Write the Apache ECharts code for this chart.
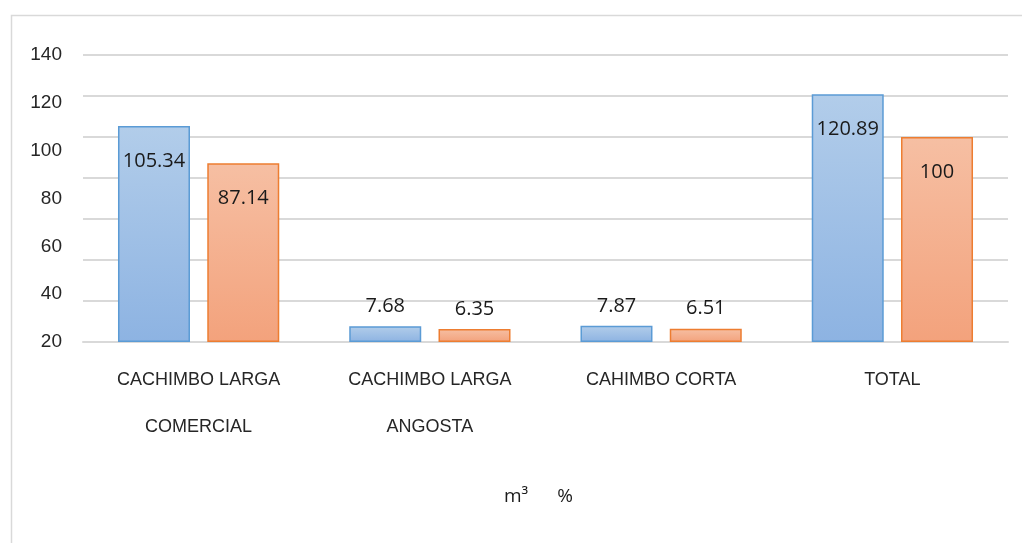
<!DOCTYPE html>
<html>
<head>
<meta charset="utf-8">
<script src="https://cdn.jsdelivr.net/npm/echarts@6/dist/echarts.min.js"></script>
<style>html,body{margin:0;padding:0;background:#fff;}#c{width:1022px;height:543px;}</style>
</head>
<body>
<div id="c"></div>
<script>
var categories = ['CACHIMBO LARGA\nCOMERCIAL', 'CACHIMBO LARGA\nANGOSTA', 'CAHIMBO CORTA', 'TOTAL'];
var seriesNames = ['m³', '%'];
var volumeValues = [105.34, 7.68, 7.87, 120.89];
var percentValues = [87.14, 6.35, 6.51, 100];
var tickLabels = [20, 40, 60, 80, 100, 120, 140];

var chart = echarts.init(document.getElementById('c'), null, {renderer: 'canvas'});

function makeData(vals) {
  return vals.map(function (v) {
    var big = v > 20;
    return {
      value: v,
      label: big ? {position: 'insideTop', distance: 25} : {position: 'top', distance: 10}
    };
  });
}

function grad(top, bottom) {
  return new echarts.graphic.LinearGradient(0, 0, 0, 1, [
    {offset: 0, color: top}, {offset: 1, color: bottom}
  ]);
}

var labelStyle = {
  show: true,
  color: '#1a1a1a',
  fontFamily: 'Open Sans',
  fontSize: 20
};

var axisFont = 'Liberation Sans Narrow, Arial Narrow, Liberation Sans';

chart.setOption({
  animation: false,
  backgroundColor: '#fff',
  graphic: [{
    type: 'rect',
    shape: {x: 11.5, y: 15.5, width: 1030, height: 560},
    style: {fill: 'none', stroke: '#d9d9d9', lineWidth: 1.5},
    silent: true,
    z: -10
  }],
  legend: {
    data: seriesNames,
    left: 494,
    top: 482,
    icon: 'none',
    itemWidth: 0,
    itemGap: 24,
    textStyle: {fontFamily: 'Open Sans', fontSize: 19, color: '#1a1a1a'}
  },
  grid: {left: 83, right: 14, top: 55, bottom: 201},
  xAxis: {
    type: 'category',
    data: categories,
    axisLine: {lineStyle: {color: '#d9d9d9', width: 2}},
    axisTick: {show: false},
    axisLabel: {
      interval: 0,
      margin: 15,
      color: '#262626',
      fontFamily: axisFont,
      fontSize: 18,
      lineHeight: 47
    }
  },
  yAxis: [{
    type: 'value',
    min: 0, max: 140, interval: 20,
    axisLabel: {show: false},
    axisLine: {show: false},
    axisTick: {show: false},
    splitLine: {lineStyle: {color: '#d9d9d9', width: 2}}
  }, {
    type: 'value',
    position: 'left',
    min: tickLabels[0], max: tickLabels[tickLabels.length - 1], interval: 20,
    axisLine: {show: false},
    axisTick: {show: false},
    splitLine: {show: false},
    axisLabel: {
      margin: 21,
      color: '#262626',
      fontFamily: axisFont,
      fontSize: 19
    }
  }],
  series: [{
    name: seriesNames[0],
    type: 'bar',
    yAxisIndex: 0,
    barWidth: 72,
    barGap: '24%',
    data: makeData(volumeValues),
    itemStyle: {color: grad('#b2cdea', '#8db3e2'), borderColor: '#5b9bd5', borderWidth: 1.5},
    label: labelStyle
  }, {
    name: seriesNames[1],
    type: 'bar',
    yAxisIndex: 0,
    barWidth: 72,
    barGap: '24%',
    data: makeData(percentValues),
    itemStyle: {color: grad('#f6bfa3', '#f3a27c'), borderColor: '#ed7d31', borderWidth: 1.5},
    label: labelStyle
  }]
});
</script>
</body>
</html>
